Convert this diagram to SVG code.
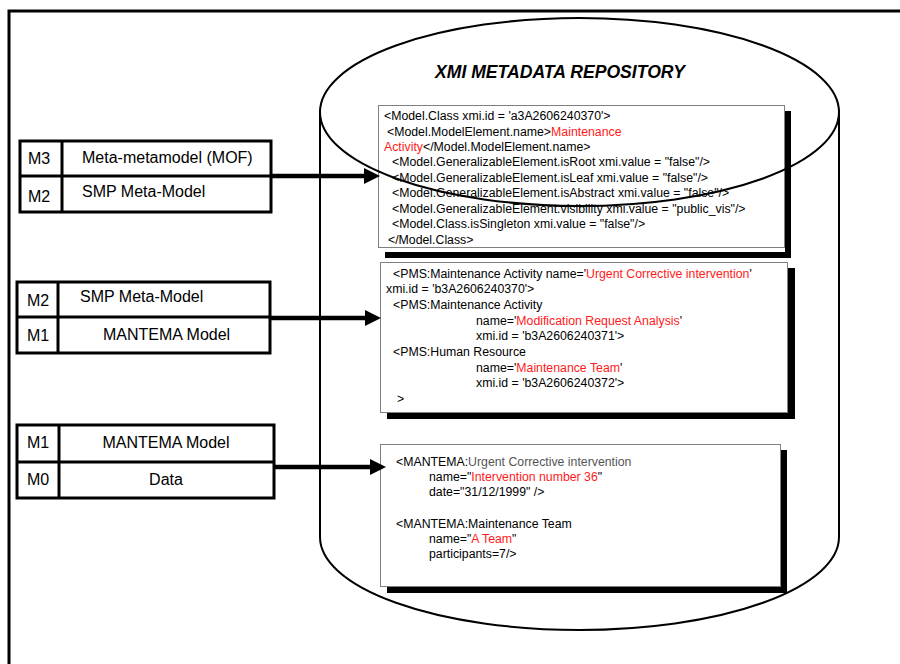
<svg xmlns="http://www.w3.org/2000/svg" width="900" height="664" viewBox="0 0 900 664">
<style>
.frame{fill:none;stroke:#000;stroke-width:3}
.cyl{fill:none;stroke:#000;stroke-width:2}
.stk{fill:#fff;stroke:#000;stroke-width:3}
.sl{stroke:#000;stroke-width:3}
.lbl{font-family:"Liberation Sans",Arial,sans-serif;font-size:16px;fill:#000}
.xbox{fill:#fff;stroke:#808080;stroke-width:1}
.shadow{fill:#000}
.code{font-family:"Liberation Sans",Arial,sans-serif;font-size:12.3px;fill:#000}
.red{fill:#ff1a1a}
.gray{fill:#555}
.title{font-family:"Liberation Sans",Arial,sans-serif;font-size:17.6px;font-weight:bold;font-style:italic;fill:#000}
.conn{stroke:#000;stroke-width:4.5;fill:none}
</style>
<defs>
<marker id="ah" markerUnits="userSpaceOnUse" markerWidth="17" markerHeight="17" refX="0" refY="8" orient="auto">
<path d="M0,0 L16,8 L0,16 Z" fill="#000"/>
</marker>
</defs>
<rect width="900" height="664" fill="#fff"/>
<g id="frame"><path class="frame" d="M9,664 V11 H900"/></g>

<g id="xmi-a">
<rect class="shadow" x="785" y="111" width="6" height="147"/>
<rect class="shadow" x="385" y="252" width="406" height="6"/>
<rect class="xbox" x="378.5" y="105.5" width="406" height="142"/>
<text class="code" x="384" y="120">&lt;Model.Class xmi.id = 'a3A2606240370'&gt;</text>
<text class="code" x="387" y="136">&lt;Model.ModelElement.name&gt;<tspan class="red">Maintenance</tspan></text>
<text class="code" x="384" y="151"><tspan class="red">Activity</tspan>&lt;/Model.ModelElement.name&gt;</text>
<text class="code" x="392" y="166">&lt;Model.GeneralizableElement.isRoot xmi.value = "false"/&gt;</text>
<text class="code" x="392" y="182">&lt;Model.GeneralizableElement.isLeaf xmi.value = "false"/&gt;</text>
<text class="code" x="392" y="197">&lt;Model.GeneralizableElement.isAbstract xmi.value = "false"/&gt;</text>
<text class="code" x="392" y="213">&lt;Model.GeneralizableElement.visibility xmi.value = "public_vis"/&gt;</text>
<text class="code" x="392" y="228">&lt;Model.Class.isSingleton xmi.value = "false"/&gt;</text>
<text class="code" x="388" y="244">&lt;/Model.Class&gt;</text>
</g>

<g id="xmi-b">
<rect class="shadow" x="788" y="268" width="7" height="151"/>
<rect class="shadow" x="387" y="413" width="408" height="6"/>
<rect class="xbox" x="380.5" y="262.5" width="407" height="150"/>
<text class="code" x="393" y="278">&lt;PMS:Maintenance Activity name='<tspan class="red">Urgent Corrective intervention</tspan>'</text>
<text class="code" x="386" y="293">xmi.id = 'b3A2606240370'&gt;</text>
<text class="code" x="393" y="309">&lt;PMS:Maintenance Activity</text>
<text class="code" x="476" y="325">name='<tspan class="red">Modification Request Analysis</tspan>'</text>
<text class="code" x="476" y="340">xmi.id = 'b3A2606240371'&gt;</text>
<text class="code" x="393" y="356">&lt;PMS:Human Resource</text>
<text class="code" x="476" y="372">name='<tspan class="red">Maintenance Team</tspan>'</text>
<text class="code" x="476" y="387">xmi.id = 'b3A2606240372'&gt;</text>
<text class="code" x="397" y="403">&gt;</text>
</g>

<g id="xmi-c">
<rect class="shadow" x="780" y="450" width="7" height="143"/>
<rect class="shadow" x="387" y="587" width="400" height="6"/>
<rect class="xbox" x="380.5" y="444.5" width="400" height="142"/>
<text class="code" x="396" y="466">&lt;MANTEMA:<tspan class="gray">Urgent Corrective intervention</tspan></text>
<text class="code" x="429" y="481">name="<tspan class="red">Intervention number 36</tspan>"</text>
<text class="code" x="429" y="496">date="31/12/1999" /&gt;</text>
<text class="code" x="396" y="528">&lt;MANTEMA:Maintenance Team</text>
<text class="code" x="429" y="543">name="<tspan class="red">A Team</tspan>"</text>
<text class="code" x="429" y="558">participants=7/&gt;</text>
</g>

<g id="repository">
<path class="cyl" d="M320,110 V537 A259.5,93 0 0 0 839,537 V110"/>
<ellipse class="cyl" cx="579.5" cy="112" rx="259.5" ry="94"/>
<text class="title" x="560" y="78" text-anchor="middle">XMI METADATA REPOSITORY</text>
</g>

<g id="stack-m3-m2">
<rect class="stk" x="20" y="141" width="251" height="71"/>
<line class="sl" x1="20" y1="176" x2="271" y2="176"/>
<line class="sl" x1="62" y1="141" x2="62" y2="212"/>
<text class="lbl" x="28" y="164">M3</text>
<text class="lbl" x="82" y="163">Meta-metamodel (MOF)</text>
<text class="lbl" x="28" y="202">M2</text>
<text class="lbl" x="82" y="197">SMP Meta-Model</text>
</g>

<g id="stack-m2-m1">
<rect class="stk" x="17" y="282" width="253" height="71"/>
<line class="sl" x1="17" y1="317" x2="270" y2="317"/>
<line class="sl" x1="58" y1="282" x2="58" y2="353"/>
<text class="lbl" x="27" y="306">M2</text>
<text class="lbl" x="80" y="302">SMP Meta-Model</text>
<text class="lbl" x="27" y="341">M1</text>
<text class="lbl" x="103" y="340">MANTEMA Model</text>
</g>

<g id="stack-m1-m0">
<rect class="stk" x="17" y="425" width="257" height="73"/>
<line class="sl" x1="17" y1="462" x2="274" y2="462"/>
<line class="sl" x1="59" y1="425" x2="59" y2="498"/>
<text class="lbl" x="27" y="448">M1</text>
<text class="lbl" x="166" y="448" text-anchor="middle">MANTEMA Model</text>
<text class="lbl" x="27" y="485">M0</text>
<text class="lbl" x="166" y="485" text-anchor="middle">Data</text>
</g>

<g id="connectors">
<line class="conn" x1="271" y1="176" x2="364" y2="176" marker-end="url(#ah)"/>
<line class="conn" x1="270" y1="318" x2="365" y2="318" marker-end="url(#ah)"/>
<line class="conn" x1="274" y1="467" x2="370" y2="467" marker-end="url(#ah)"/>
</g>
</svg>
